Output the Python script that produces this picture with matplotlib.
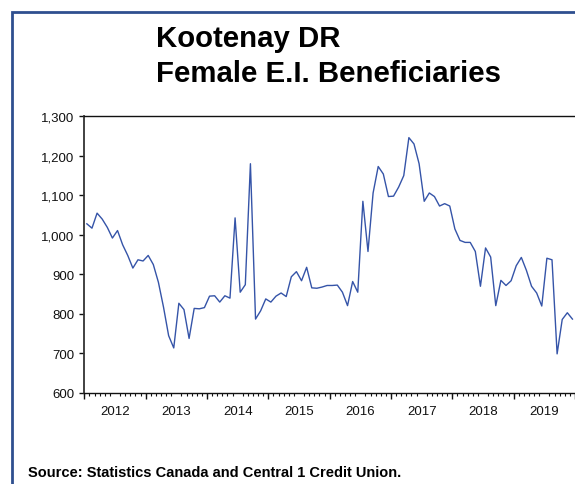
import matplotlib
matplotlib.use("Agg")
import matplotlib.pyplot as plt
from matplotlib.patches import Rectangle
from matplotlib.ticker import FixedLocator, FuncFormatter

plt.rcParams['font.family'] = ['Liberation Sans', 'DejaVu Sans']

# monthly counts, Jan 2012 - Dec 2019
years = ['2012', '2013', '2014', '2015', '2016', '2017', '2018', '2019']
beneficiaries = [
    1028, 1017, 1055, 1040, 1019, 992, 1011, 975, 948, 916, 937, 934,
    948, 925, 880, 817, 745, 714, 827, 811, 738, 814, 813, 816,
    845, 846, 830, 846, 840, 1043, 855, 874, 1180, 787, 808, 838,
    830, 845, 853, 844, 894, 907, 884, 918, 866, 865, 868, 872,
    872, 873, 855, 821, 882, 855, 1085, 958, 1106, 1173, 1154, 1097,
    1098, 1121, 1150, 1246, 1230, 1180, 1085, 1106, 1097, 1073, 1079, 1073,
    1015, 986, 981, 981, 958, 870, 967, 944, 821, 885, 872, 884,
    922, 943, 910, 870, 853, 820, 941, 937, 699, 786, 803, 787,
]
y_ticks = [600, 700, 800, 900, 1000, 1100, 1200, 1300]

W, H = 575, 485
fig = plt.figure(figsize=(W / 100, H / 100), dpi=100)

# blue frame round the panel (runs off the right and bottom edges)
fig.patches.append(Rectangle((11.7 / W, -0.1), 1.2, 1 - 13.3 / H + 0.1,
                             transform=fig.transFigure, fill=False,
                             edgecolor='#2f4f8f', linewidth=2.0))

fig.text(156 / W, 1 - 47.3 / H, 'Kootenay DR', fontsize=21.2,
         fontweight='bold', ha='left', va='baseline')
fig.text(156 / W, 1 - 81.7 / H, 'Female E.I. Beneficiaries', fontsize=21.2,
         fontweight='bold', ha='left', va='baseline')
fig.text(28 / W, 1 - 476.7 / H,
         'Source: Statistics Canada and Central 1 Credit Union.',
         fontsize=10.5, fontweight='bold', ha='left', va='baseline')

left, right = 84.3 / W, 1.0
bottom, top = 1 - 394 / H, 1 - 117.3 / H
ax = fig.add_axes([left, bottom, right - left, top - bottom])

x = list(range(len(beneficiaries)))
ax.plot(x, beneficiaries, color='#3554a8', linewidth=1.0)

ax.set_xlim(-0.5, len(beneficiaries) - 0.5)
ax.set_ylim(600, 1300)

ax.spines['right'].set_visible(False)
for side in ['top', 'bottom', 'left']:
    ax.spines[side].set_color('#111111')
    ax.spines[side].set_linewidth(1.0)
ax.spines['left'].set_linewidth(1.3)
ax.spines['left'].set_color('#333333')

ax.yaxis.set_major_locator(FixedLocator(y_ticks))
ax.yaxis.set_major_formatter(FuncFormatter(lambda v, p: f'{int(v):,}'))
ax.tick_params(axis='y', direction='out', length=3.6, width=1.0,
               pad=3.6, labelsize=9.5, colors='#111111')

# year labels centred in each year, month ticks on the boundaries
ax.xaxis.set_major_locator(FixedLocator([12 * k + 5.5 for k in range(len(years))]))
ax.set_xticklabels(years)
ax.xaxis.set_minor_locator(FixedLocator([k - 0.5 for k in range(len(beneficiaries) + 1)]))
ax.tick_params(axis='x', which='major', length=0, pad=9.0, labelsize=9.5,
               colors='#111111')
ax.tick_params(axis='x', which='minor', direction='out', length=2.2, width=0.8,
               color='#111111')

# longer ticks at the year boundaries
sec = ax.secondary_xaxis('bottom')
sec.spines['bottom'].set_visible(False)
sec.xaxis.set_major_locator(FixedLocator([12 * k - 0.5 for k in range(len(years) + 1)]))
sec.set_xticklabels([])
sec.tick_params(axis='x', direction='out', length=4.0, width=1.0, color='#111111')

fig.savefig('out.png', dpi=100)
